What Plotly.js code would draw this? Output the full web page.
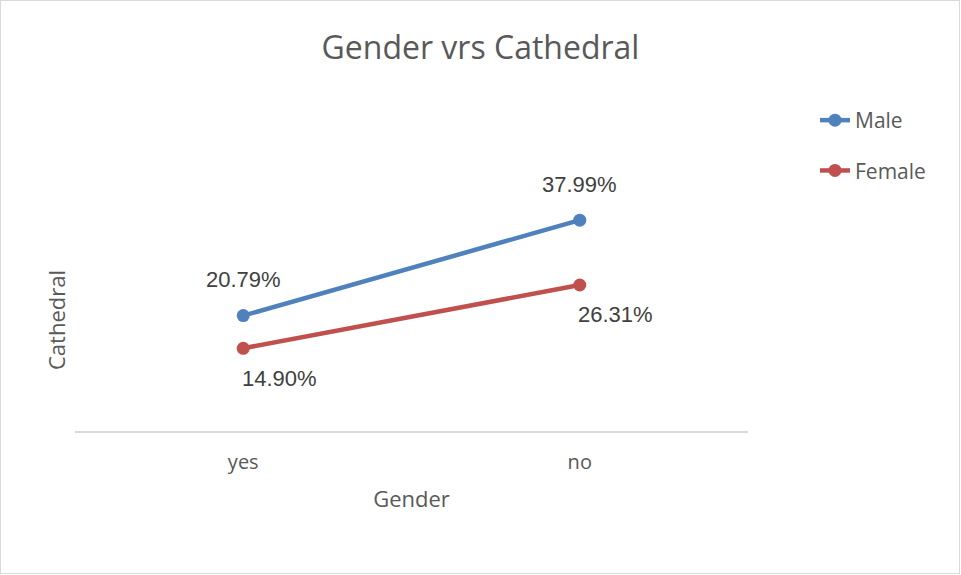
<!DOCTYPE html>
<html><head><meta charset="utf-8">
<script src="https://cdn.plot.ly/plotly-3.0.1.min.js"></script>
<style>html,body{margin:0;padding:0;background:#fff}#wrap{position:relative;width:961px;height:575px}#chart{width:961px;height:575px}#frame{position:absolute;left:0;top:0;width:958px;height:572px;border:1px solid #d9d9d9;pointer-events:none}</style>
</head><body>
<div id="wrap"><div id="chart"></div><div id="frame"></div></div>
<script>
const categories = ["yes", "no"];
const maleValues = [20.79, 37.99];
const femaleValues = [14.90, 26.31];
const maleLabels = ["20.79%", "37.99%"];
const femaleLabels = ["14.90%", "26.31%"];

const labelFont = {family: "Liberation Sans, Arial, sans-serif", size: 22, color: "#404040"};
const txtFont = "Open Sans, sans-serif";

const traces = [
  {x: categories, y: maleValues, name: "Male", type: "scatter", mode: "lines+markers",
   line: {color: "#4f81bd", width: 4.5}, marker: {color: "#4f81bd", size: 13}, legendgroup: "m", cliponaxis: false},
  {x: categories, y: femaleValues, name: "Female", type: "scatter", mode: "lines+markers",
   line: {color: "#c0504d", width: 4.5}, marker: {color: "#c0504d", size: 13}, legendgroup: "f", cliponaxis: false}
];

const annotations = [];
categories.forEach((c, i) => {
  annotations.push({x: c, y: maleValues[i], text: maleLabels[i], showarrow: false, yshift: 36, font: labelFont});
  annotations.push({x: c, y: femaleValues[i], text: femaleLabels[i], showarrow: false, xshift: 36, yshift: -30, font: labelFont});
});

const layout = {
  width: 961, height: 575,
  margin: {l: 75, r: 213, t: 209, b: 144},
  paper_bgcolor: "#fff", plot_bgcolor: "#fff",
  title: {text: "Gender vrs Cathedral", x: 0.5, xanchor: "center", y: 1 - 48/575, yanchor: "middle", yref: "container",
          font: {family: txtFont, size: 32, color: "#595959"}},
  xaxis: {type: "category", range: [-0.5, 1.5], showline: true, linecolor: "#d9d9d9", linewidth: 1.5,
          showgrid: false, zeroline: false, ticks: "", ticklabelstandoff: 12,
          tickfont: {family: txtFont, size: 20, color: "#595959"},
          title: {text: "Gender", font: {family: txtFont, size: 22, color: "#595959"}, standoff: 18}},
  yaxis: {range: [0, 40], showline: false, showgrid: false, zeroline: false, showticklabels: false, ticks: "",
          title: {text: "Cathedral", font: {family: txtFont, size: 22, color: "#595959"}, standoff: 2}},
  showlegend: true,
  legend: {x: (815 - 75) / 673, xanchor: "left", y: 1 - 100/575, yref: "container", yanchor: "top",
           font: {family: txtFont, size: 21, color: "#595959"}, tracegroupgap: 20, bgcolor: "rgba(0,0,0,0)"},
  annotations: annotations
};
Plotly.newPlot("chart", traces, layout, {displayModeBar: false, staticPlot: true});
</script>
</body></html>
